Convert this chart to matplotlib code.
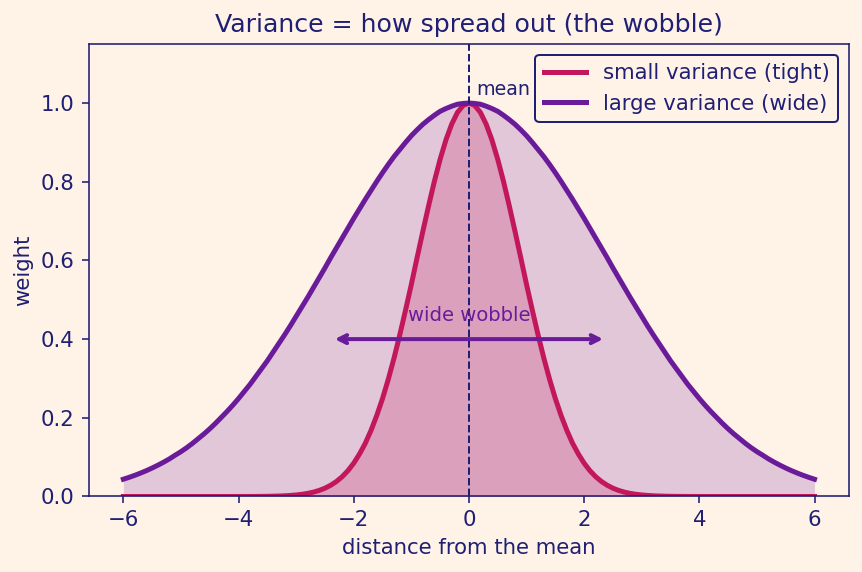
import numpy as np
import matplotlib
matplotlib.use("Agg")
import matplotlib.pyplot as plt

# distance from the mean, right half 0 .. 6 in steps of 0.1
x_half = np.arange(61) / 10.0

# weights for x = 0, 0.1, ..., 6 (curves are symmetric)
small_half = [1.000, 0.994, 0.976, 0.946, 0.906, 0.857, 0.801, 0.739, 0.674, 0.607,
              0.539, 0.474, 0.411, 0.352, 0.298, 0.249, 0.206, 0.168, 0.135, 0.108,
              0.0847, 0.0657, 0.0504, 0.0382, 0.0286, 0.0211, 0.0154, 0.0111, 0.0079, 0.0056,
              0.0039, 0.0027, 0.0018, 0.0012, 0.0008, 0.0005, 0.0003, 0.0002, 0.0001, 0.0001,
              0.0, 0.0, 0.0, 0.0, 0.0, 0.0, 0.0, 0.0, 0.0, 0.0,
              0.0, 0.0, 0.0, 0.0, 0.0, 0.0, 0.0, 0.0, 0.0, 0.0, 0.0]
large_half = [1.000, 0.999, 0.997, 0.992, 0.986, 0.979, 0.969, 0.958, 0.946, 0.932,
              0.917, 0.900, 0.882, 0.864, 0.844, 0.823, 0.801, 0.778, 0.755, 0.731,
              0.707, 0.682, 0.657, 0.632, 0.607, 0.581, 0.556, 0.531, 0.506, 0.482,
              0.458, 0.434, 0.411, 0.389, 0.367, 0.345, 0.325, 0.305, 0.285, 0.267,
              0.249, 0.232, 0.216, 0.201, 0.186, 0.172, 0.159, 0.147, 0.135, 0.124,
              0.114, 0.105, 0.0956, 0.0873, 0.0796, 0.0724, 0.0657, 0.0596, 0.0539, 0.0487, 0.0439]

labels = ["small variance (tight)", "large variance (wide)"]
wide_sigma = 2.4

# mirror to the left side
x = np.concatenate([-x_half[:0:-1], x_half])
small = np.array(small_half[:0:-1] + small_half)
large = np.array(large_half[:0:-1] + large_half)

bg = "#fff3e8"
navy = "#1f1f73"
red = "#c2185b"
purple = "#6a1b9a"

plt.rcParams["font.family"] = "DejaVu Sans"
fig = plt.figure(figsize=(862 / 144, 572 / 144), dpi=144, facecolor=bg)
ax = fig.add_axes([0.103, 0.132, 0.882, 0.791], facecolor=bg)

ax.fill_between(x, large, color=purple, alpha=0.2, lw=0)
ax.fill_between(x, small, color=red, alpha=0.22, lw=0)
ax.plot(x, small, color=red, lw=2.5, label=labels[0])
ax.plot(x, large, color=purple, lw=2.5, label=labels[1])

ax.axvline(0, color=navy, lw=1, ls="--")
ax.text(0.12, 1.01, "mean", color=navy, fontsize=9.5, ha="left", va="bottom")

ax.annotate("", xy=(-wide_sigma, 0.4), xytext=(wide_sigma, 0.4),
            arrowprops=dict(arrowstyle="<->", color=purple, lw=2))
ax.text(0, 0.437, "wide wobble", color=purple, fontsize=9.8, ha="center", va="bottom")

ax.set_xlim(-6.6, 6.6)
ax.set_ylim(0, 1.15)
ax.set_title("Variance = how spread out (the wobble)", color=navy, fontsize=12.6)
ax.set_xlabel("distance from the mean", color=navy, fontsize=10.6)
ax.set_ylabel("weight", color=navy, fontsize=10.6)
ax.tick_params(colors=navy, labelsize=10.6)
for s in ax.spines.values():
    s.set_color(navy)

leg = ax.legend(loc="upper right", fontsize=10.6, facecolor=bg, edgecolor=navy,
                framealpha=1, labelcolor=navy)

fig.savefig("out.png", dpi=144, facecolor=bg)
